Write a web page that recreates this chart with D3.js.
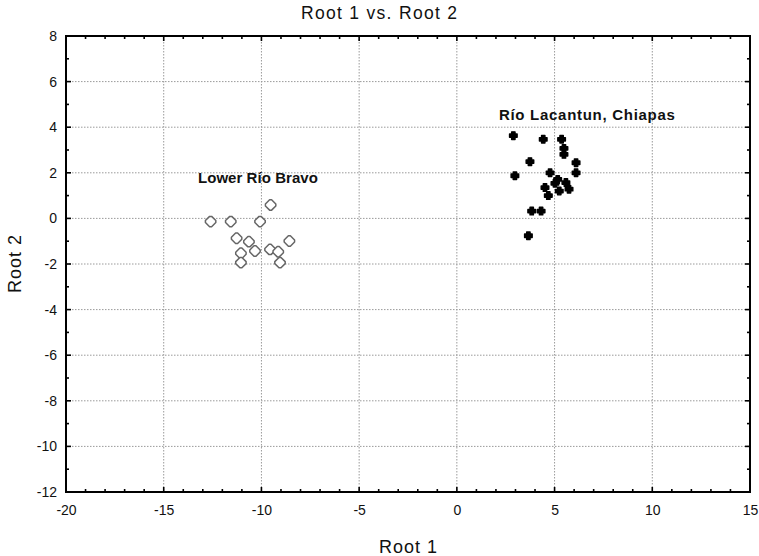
<!DOCTYPE html>
<html><head><meta charset="utf-8">
<script src="https://cdn.jsdelivr.net/npm/d3@7"></script>
<style>body{margin:0;background:#fff}svg{display:block}text{font-family:"Liberation Sans",Arial,sans-serif}</style>
</head><body><svg id="c" width="759" height="556"></svg>
<script>
const title = "Root 1 vs. Root 2";
const xLabel = "Root 1", yLabel = "Root 2";
const xTicks = [-20,-15,-10,-5,0,5,10,15];
const yTicks = [-12,-10,-8,-6,-4,-2,0,2,4,6,8];
const groupNames = ["Lower Río Bravo","Río Lacantun, Chiapas"];
const braveX = [-9.53,-12.60,-11.57,-10.07,-11.27,-10.64,-8.57,-10.33,-11.05,-9.56,-9.14,-11.05,-9.05];
const braveY = [0.59,-0.14,-0.14,-0.14,-0.87,-1.02,-0.99,-1.43,-1.53,-1.36,-1.46,-1.94,-1.94];
const lacX = [2.89,4.42,5.36,5.48,5.48,3.74,6.10,6.10,2.97,4.77,5.16,5.02,5.58,4.51,5.74,5.24,4.68,3.83,4.31,3.66];
const lacY = [3.63,3.47,3.47,3.07,2.81,2.49,2.44,2.00,1.87,2.00,1.71,1.54,1.57,1.35,1.28,1.20,1.00,0.32,0.32,-0.76];
const labelPos = [[-13.3,1.55],[2.1,4.3]];

const svg = d3.select("#c");
const L=66,R=750,T=36,B=492;
const x = d3.scaleLinear().domain([-20,15]).range([L,R]);
const y = d3.scaleLinear().domain([-12,8]).range([B,T]);

// grid
const g = svg.append("g");
g.selectAll(".gx").data(xTicks.slice(1,-1)).join("line")
 .attr("x1",d=>x(d)).attr("x2",d=>x(d)).attr("y1",T).attr("y2",B)
 .attr("stroke","#9a9a9a").attr("stroke-dasharray","1.5,1.5");
g.selectAll(".gy").data(yTicks.slice(1,-1)).join("line")
 .attr("y1",d=>y(d)).attr("y2",d=>y(d)).attr("x1",L).attr("x2",R)
 .attr("stroke","#9a9a9a").attr("stroke-dasharray","1.5,1.5");

// minor ticks inside
const xMinor = d3.range(-20,16,1), yMinor = d3.range(-12,9,1);
const tk = svg.append("g").attr("stroke","#000").attr("stroke-width",1.6);
xMinor.forEach(v=>{
  const len = (v%5===0)?5:3;
  tk.append("line").attr("x1",x(v)).attr("x2",x(v)).attr("y1",B).attr("y2",B-len);
  tk.append("line").attr("x1",x(v)).attr("x2",x(v)).attr("y1",T).attr("y2",T+len);
});
yMinor.forEach(v=>{
  const len = (v%2===0)?5:3;
  tk.append("line").attr("y1",y(v)).attr("y2",y(v)).attr("x1",L).attr("x2",L+len);
  tk.append("line").attr("y1",y(v)).attr("y2",y(v)).attr("x1",R).attr("x2",R-len);
});

// frame
svg.append("rect").attr("x",L).attr("y",T).attr("width",R-L).attr("height",B-T)
 .attr("fill","none").attr("stroke","#000").attr("stroke-width",2);

// axes labels via d3 axes (no lines)
const ax = svg.append("g").attr("transform",`translate(0,${B})`)
 .call(d3.axisBottom(x).tickValues(xTicks).tickSize(0).tickPadding(13).tickFormat(d=>String(d)));
ax.select(".domain").remove();
ax.selectAll("text").attr("font-size",14).attr("fill","#111").attr("font-family","Liberation Sans, Arial, sans-serif");
const ay = svg.append("g").attr("transform",`translate(${L},0)`)
 .call(d3.axisLeft(y).tickValues(yTicks).tickSize(0).tickPadding(9).tickFormat(d=>String(d)));
ay.select(".domain").remove();
ay.selectAll("text").attr("font-size",14).attr("fill","#111").attr("font-family","Liberation Sans, Arial, sans-serif");

// titles
svg.append("text").attr("x",379).attr("y",19).attr("text-anchor","middle").attr("font-size",17.5)
 .attr("textLength",156).attr("lengthAdjust","spacing").attr("fill","#111").text(title);
svg.append("text").attr("x",(L+R)/2).attr("y",553).attr("text-anchor","middle").attr("font-size",18)
 .attr("textLength",58).attr("lengthAdjust","spacing").attr("fill","#111").text(xLabel);
svg.append("text").attr("transform",`translate(21,${(T+B)/2}) rotate(-90)`).attr("text-anchor","middle")
 .attr("font-size",18).attr("textLength",58).attr("lengthAdjust","spacing").attr("fill","#111").text(yLabel);

// group labels
const lens = [120,176];
groupNames.forEach((n,i)=>{
  svg.append("text").attr("x",x(labelPos[i][0])+1).attr("y",y(labelPos[i][1]))
   .attr("font-size",15).attr("font-weight","bold").attr("textLength",lens[i]).attr("lengthAdjust","spacing")
   .attr("fill","#111").text(n);
});

// points
const bravo = braveX.map((v,i)=>[v,braveY[i]]);
const lac = lacX.map((v,i)=>[v,lacY[i]]);
svg.append("g").selectAll("path").data(bravo).join("path")
 .attr("d","M-1,-5.2L1,-5.2L5.2,-1L5.2,1L1,5.2L-1,5.2L-5.2,1L-5.2,-1Z")
 .attr("transform",d=>`translate(${x(d[0])},${y(d[1])})`)
 .attr("fill","#fff").attr("stroke","#666").attr("stroke-width",1.5).attr("stroke-linejoin","round");
svg.append("g").selectAll("path").data(lac).join("path")
 .attr("d","M-1.7,-3.8L1.7,-3.8L1.7,-1.7L3.8,-1.7L3.8,1.7L1.7,1.7L1.7,3.8L-1.7,3.8L-1.7,1.7L-3.8,1.7L-3.8,-1.7L-1.7,-1.7Z")
 .attr("transform",d=>`translate(${x(d[0])},${y(d[1])})`)
 .attr("fill","#000").attr("stroke","#000").attr("stroke-width",1.4).attr("stroke-linejoin","round");
</script></body></html>
